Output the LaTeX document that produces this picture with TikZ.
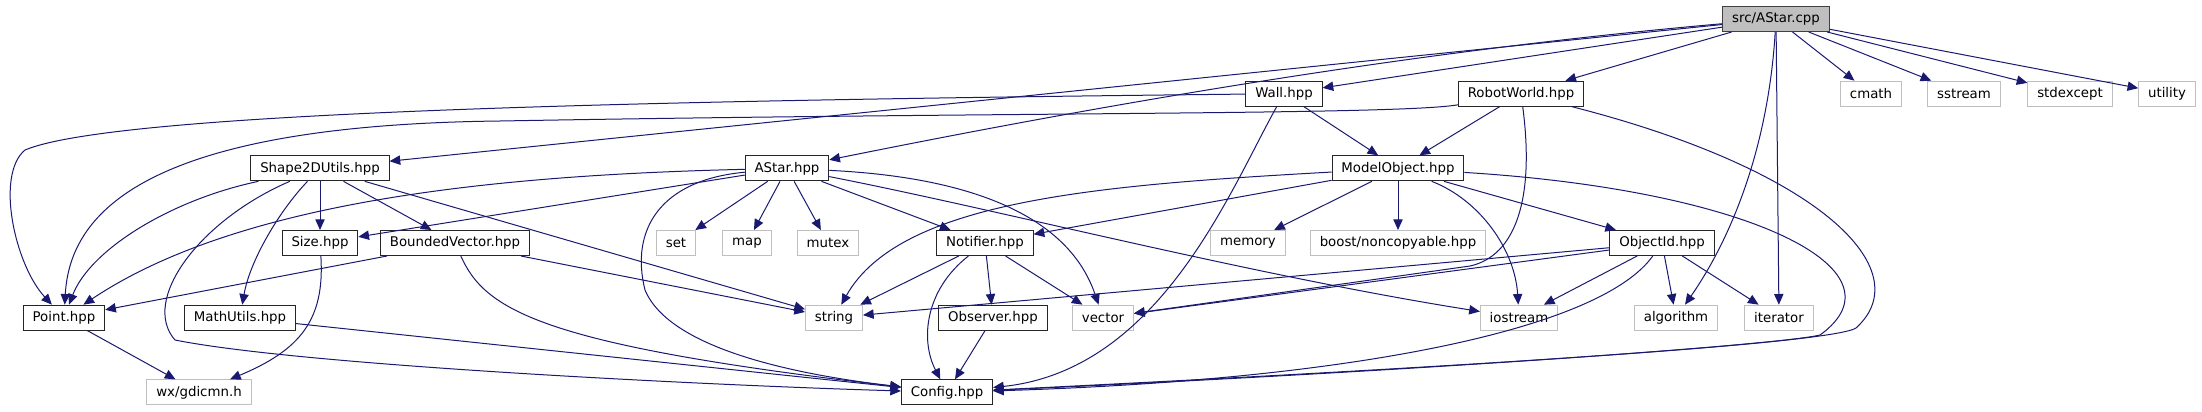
\documentclass[tikz,border=0pt]{standalone}
\usepackage{fontspec}
\setmainfont{DejaVu Sans}
\usepackage{xcolor}
\usepackage{tikz}
\usetikzlibrary{positioning, arrows.meta}

\definecolor{edgeblue}{RGB}{25,25,112}
\definecolor{sysgray}{RGB}{191,191,191}
\definecolor{rootgray}{RGB}{64,64,64}

\begin{document}
\begin{tikzpicture}[
                x=0.75pt, y=-0.75pt,
                on grid,
                font=\fontsize{10}{12}\selectfont,
                box/.style={rectangle, line width=0.75pt, inner xsep=7pt, inner ysep=0pt, minimum height=18.75pt},
                docnode/.style={box, draw=black!85, fill=white},
                sysnode/.style={box, draw=sysgray, fill=white},
                rootnode/.style={box, draw=rootgray, fill=sysgray},
                incl/.style={->, >={Triangle[length=8pt, width=7pt]}, draw=edgeblue, line width=0.75pt}
                ]

                \useasboundingbox (0,0) rectangle (2202,411);

                % 맨 위 줄
                \node[rootnode] (root) at (1776,19) {src/AStar.cpp};

                % 둘째 줄
                \node[docnode] (wall) [below left=56pt and 369pt of root] {Wall.hpp};
                \node[docnode] (robot) [right=177.75pt of wall] {RobotWorld.hpp};
                \node[sysnode] (cmath) [right=262.5pt of robot] {cmath};
                \node[sysnode] (sstream) [right=69.75pt of cmath] {sstream};
                \node[sysnode] (stdexcept) [right=79.5pt of sstream] {stdexcept};
                \node[sysnode] (utility) [right=72.75pt of stdexcept] {utility};

                % 셋째 줄
                \node[docnode] (shape) [below left=56pt and 723pt of wall] {Shape2DUtils.hpp};
                \node[docnode] (astarh) [right=350.25pt of shape] {AStar.hpp};
                \node[docnode] (model) [right=458.25pt of astarh] {ModelObject.hpp};

                % 넷째 줄
                \node[docnode] (size) [below=56pt of shape] {Size.hpp};
                \node[docnode] (bounded) [right=101.25pt of size] {BoundedVector.hpp};
                \node[sysnode] (set) [right=165.75pt of bounded] {set};
                \node[sysnode] (map) [right=53.25pt of set] {map};
                \node[sysnode] (mutex) [right=60.75pt of map] {mutex};
                \node[docnode] (notifier) [right=117.75pt of mutex] {Notifier.hpp};
                \node[sysnode] (memory) [right=197.25pt of notifier] {memory};
                \node[sysnode] (boost) [below=56pt of model] {boost/noncopyable.hpp};
                \node[docnode] (objectid) [right=198pt of boost] {ObjectId.hpp};

                % 다섯째 줄
                \node[docnode] (point) [below left=56pt and 192pt of size] {Point.hpp};
                \node[docnode] (mathutils) [right=132pt of point] {MathUtils.hpp};
                \node[sysnode] (string) [right=445.5pt of mathutils] {string};
                \node[docnode] (observer) [right=119.25pt of string] {Observer.hpp};
                \node[sysnode] (vector) [right=82.5pt of observer] {vector};
                \node[sysnode] (iostream) [right=312pt of vector] {iostream};
                \node[sysnode] (algorithm) [right=117.75pt of iostream] {algorithm};
                \node[sysnode] (iterator) [right=77.25pt of algorithm] {iterator};

                % 맨 아래 줄
                \node[sysnode] (wxgdi) [below right=56pt and 101.25pt of point] {wx/gdicmn.h};
                \node[docnode] (config) [below left=56pt and 34.5pt of observer] {Config.hpp};

                % src/AStar.cpp 에서
                \draw[incl] (root) -- (shape);
                \draw[incl] (root) .. controls (1480,45) and (1200,85) .. (astarh);
                \draw[incl] (root) -- (wall);
                \draw[incl] (root) -- (robot);
                \draw[incl] (root) -- (cmath);
                \draw[incl] (root) -- (sstream);
                \draw[incl] (root) -- (stdexcept);
                \draw[incl] (root) -- (utility);
                \draw[incl] (root) .. controls (1768,150) and (1730,240) .. (algorithm);
                \draw[incl] (root) -- (iterator);

                % Wall.hpp, RobotWorld.hpp 에서
                \draw[incl] (wall) .. controls (700,100) and (120,110) .. (25,150) .. controls (-5,175) and (15,265) .. (point);
                \draw[incl] (wall) -- (model);
                \draw[incl] (wall) .. controls (1230,190) and (1160,370) .. (config);
                \draw[incl] (robot) .. controls (1400,115) and (1000,112) .. (500,121) .. controls (150,125) and (70,210) .. (point);
                \draw[incl] (robot) -- (model);
                \draw[incl] (robot) .. controls (1535,200) and (1515,256) .. (1470,266) -- (vector);
                \draw[incl] (robot) .. controls (1820,170) and (1920,270) .. (1856,328) .. controls (1830,345) and (1400,370) .. (config);

                % ModelObject.hpp, ObjectId.hpp 에서
                \draw[incl] (model) .. controls (1100,185) and (900,200) .. (string);
                \draw[incl] (model) -- (notifier);
                \draw[incl] (model) -- (memory);
                \draw[incl] (model) -- (boost);
                \draw[incl] (model) .. controls (1480,200) and (1515,250) .. (iostream);
                \draw[incl] (model) -- (objectid);
                \draw[incl] (model) .. controls (1750,190) and (1910,270) .. (1820,335) .. controls (1780,345) and (1400,372) .. (config);
                \draw[incl] (objectid) -- (string);
                \draw[incl] (objectid) -- (vector);
                \draw[incl] (objectid) -- (iostream);
                \draw[incl] (objectid) -- (algorithm);
                \draw[incl] (objectid) -- (iterator);
                \draw[incl] (objectid) .. controls (1600,330) and (1350,380) .. (config);

                % AStar.hpp 에서
                \draw[incl] (astarh) .. controls (500,175) and (240,200) .. (point);
                \draw[incl] (astarh) -- (size);
                \draw[incl] (astarh) -- (set);
                \draw[incl] (astarh) -- (map);
                \draw[incl] (astarh) -- (mutex);
                \draw[incl] (astarh) -- (notifier);
                \draw[incl] (astarh) .. controls (1030,180) and (1080,250) .. (vector);
                \draw[incl] (astarh) .. controls (1000,210) and (1250,275) .. (iostream);
                \draw[incl] (astarh) .. controls (660,180) and (630,230) .. (645,290) .. controls (670,350) and (800,375) .. (config);

                % Notifier.hpp, Observer.hpp 에서
                \draw[incl] (notifier) -- (string);
                \draw[incl] (notifier) -- (observer);
                \draw[incl] (notifier) -- (vector);
                \draw[incl] (notifier) .. controls (925,290) and (920,340) .. (config);
                \draw[incl] (observer) -- (config);

                % Shape2DUtils.hpp 에서
                \draw[incl] (shape) .. controls (170,200) and (90,250) .. (point);
                \draw[incl] (shape) .. controls (200,220) and (140,300) .. (175,340) .. controls (300,365) and (700,385) .. (config);
                \draw[incl] (shape) .. controls (280,210) and (250,260) .. (mathutils);
                \draw[incl] (shape) -- (size);
                \draw[incl] (shape) -- (bounded);
                \draw[incl] (shape) -- (string);

                % 나머지
                \draw[incl] (bounded) -- (point);
                \draw[incl] (bounded) -- (string);
                \draw[incl] (bounded) .. controls (485,310) and (540,345) .. (config);
                \draw[incl] (mathutils) -- (config);
                \draw[incl] (size) .. controls (325,320) and (300,350) .. (wxgdi);
                \draw[incl] (point) -- (wxgdi);
            \end{tikzpicture}
\end{document}
